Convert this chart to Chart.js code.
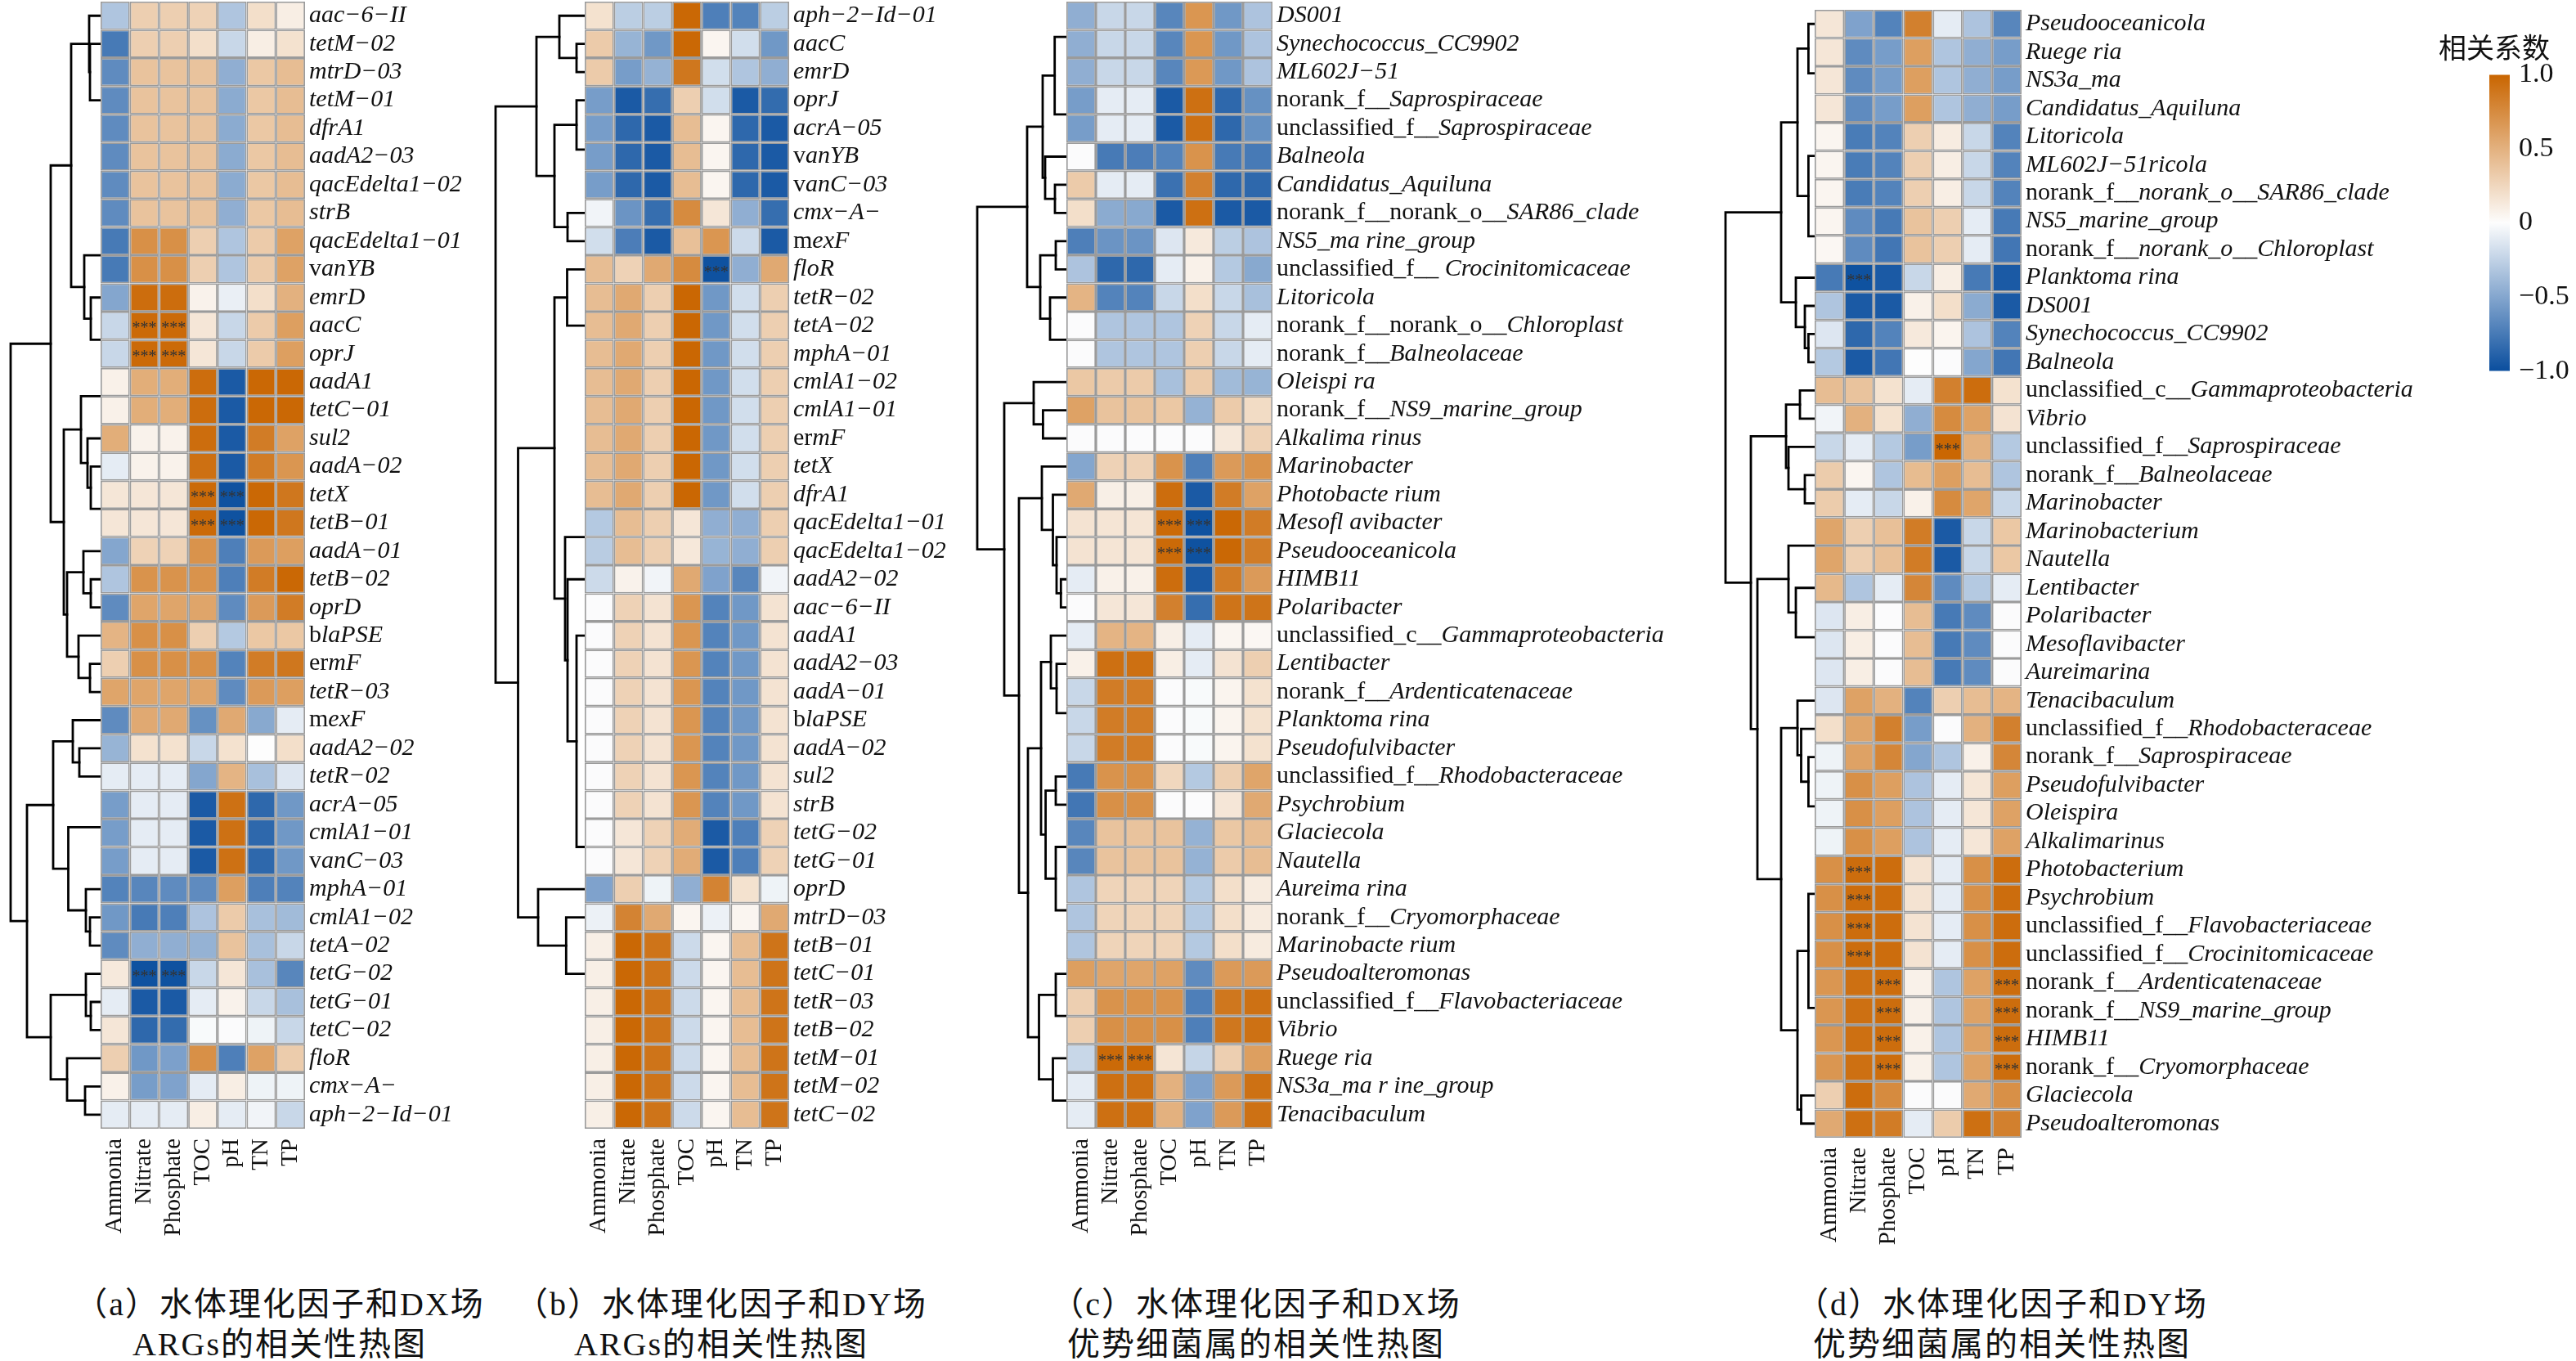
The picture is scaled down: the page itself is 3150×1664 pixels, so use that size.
<!DOCTYPE html>
<html lang="zh">
<head>
<meta charset="utf-8">
<title>相关性热图</title>
<script src="https://cdn.jsdelivr.net/npm/chart.js@4/dist/chart.umd.js"></script>
<style>
   html, body { margin: 0; background: #fff; }
   #page { position: relative; width: 3150px; height: 1664px; overflow: hidden; background: #fff; }
   canvas { position: absolute; }
   .caption { position: absolute; transform: translate( -50%, -50% ); white-space: pre; font: 40px "Liberation Serif", "Noto Sans CJK SC"; letter-spacing: 2px; color: #111; }
   #legendTitle { position: absolute; left: 2982px; top: 32px; font: 34px "Noto Sans CJK SC"; color: #111; white-space: pre; }
</style>
</head>
<body>
<div id="page"></div>
<script>
const columns = [ 'Ammonia', 'Nitrate', 'Phosphate', 'TOC', 'pH', 'TN', 'TP' ]

// {..} marks the upright parts of a row label, the rest is italic
const rowsA = [ 'aac−6−II', 'tetM−02', 'mtrD−03', 'tetM−01', 'dfrA1', 'aadA2−03', 'qacEdelta1−02', 'strB', 'qacEdelta1−01', '{v}anYB', 'emrD', 'aacC', 'oprJ', 'aadA1', 'tetC−01', 'sul2', 'aadA−02', 'tetX', 'tetB−01', 'aadA−01', 'tetB−02', 'oprD', '{b}laPSE', '{er}mF', 'tetR−03', '{m}exF', 'aadA2−02', 'tetR−02', 'acrA−05', 'cmlA1−01', '{v}anC−03', 'mphA−01', 'cmlA1−02', 'tetA−02', 'tetG−02', 'tetG−01', 'tetC−02', 'floR', 'cmx−A−', 'aph−2−Id−01' ]

const valuesA = [
   [ -.32, .3, .3, .28, -.32, .2, .1 ],
   [ -.75, .3, .3, .2, -.22, .1, .18 ],
   [ -.65, .38, .38, .38, -.45, .35, .42 ],
   [ -.65, .38, .38, .38, -.47, .35, .42 ],
   [ -.65, .38, .38, .38, -.47, .35, .42 ],
   [ -.65, .38, .38, .38, -.47, .35, .42 ],
   [ -.65, .38, .38, .38, -.47, .35, .42 ],
   [ -.65, .38, .38, .38, -.45, .35, .42 ],
   [ -.75, .72, .72, .3, -.32, .33, .6 ],
   [ -.75, .72, .72, .3, -.32, .33, .6 ],
   [ -.5, .95, .95, .07, -.08, .2, .5 ],
   [ -.22, .97, .97, .15, -.22, .33, .62 ],
   [ -.22, .97, .97, .15, -.22, .33, .62 ],
   [ .08, .52, .52, .95, -.93, .98, .98 ],
   [ .08, .52, .52, .95, -.93, .98, .98 ],
   [ .52, .07, .07, .95, -.93, .85, .6 ],
   [ -.1, .07, .07, .93, -.93, .85, .68 ],
   [ .15, .15, .15, .97, -.98, .98, .88 ],
   [ .15, .15, .15, .97, -.98, .98, .88 ],
   [ -.5, .28, .28, .7, -.72, .65, .62 ],
   [ -.32, .7, .7, .7, -.72, .85, .98 ],
   [ -.65, .58, .58, .58, -.65, .65, .85 ],
   [ .48, .72, .72, .3, -.3, .35, .35 ],
   [ .3, .72, .72, .72, -.7, .85, .88 ],
   [ .58, .58, .58, .58, -.65, .65, .62 ],
   [ -.65, .55, .55, -.62, .55, -.48, -.1 ],
   [ -.42, .18, .18, -.22, .18, 0, .2 ],
   [ -.1, -.1, -.1, -.5, .48, -.35, -.13 ],
   [ -.55, -.1, -.1, -.93, .92, -.85, -.58 ],
   [ -.55, -.1, -.1, -.93, .92, -.85, -.58 ],
   [ -.55, -.1, -.1, -.93, .92, -.85, -.58 ],
   [ -.7, -.68, -.65, -.65, .62, -.72, -.7 ],
   [ -.58, -.75, -.72, -.33, .33, -.35, -.38 ],
   [ -.65, -.45, -.45, -.43, .38, -.35, -.22 ],
   [ .13, -.98, -.98, -.22, .15, -.35, -.68 ],
   [ -.1, -.93, -.93, -.1, .07, -.22, -.35 ],
   [ .15, -.85, -.83, -.02, -.01, -.06, -.22 ],
   [ .3, -.58, -.53, .72, -.72, .6, .32 ],
   [ .08, -.55, -.52, -.1, .1, -.06, -.06 ],
   [ -.1, -.1, -.1, .1, -.1, -.05, -.22 ],
]

const starsA = [ [ 11, 1 ], [ 11, 2 ], [ 12, 1 ], [ 12, 2 ], [ 17, 3 ], [ 17, 4 ], [ 18, 3 ], [ 18, 4 ], [ 34, 1 ], [ 34, 2 ] ]

// a tree node is [ height, child, child ], a bare number is a leaf at that row position
const treeA = [ 110,
   [ 61,
      [ 36, [ 14, .5, [ 13, 1.5, 3.5 ] ], [ 20, 9, [ 12, 10.5, 12 ] ] ],
      [ 45,
         [ 24, 14, [ 16, 15.5, [ 12, 16.5, 18 ] ] ],
         [ 41, [ 21, 19.5, [ 12, 20.5, 21.5 ] ], [ 27, 22.5, [ 13, 23.5, 24.5 ] ] ],
      ],
   ],
   [ 90,
      [ 58,
         [ 34, 25.5, [ 26, 26.5, 27.5 ] ],
         [ 39.5, 29.3, [ 18, 31.5, [ 13, 32.5, 33.5 ] ] ],
      ],
      [ 61,
         [ 18, 34.5, [ 12, 35.5, 36.5 ] ],
         [ 41, 37.5, [ 19, 38.5, 39.5 ] ],
      ],
   ],
]

const rowsB = [ 'aph−2−Id−01', 'aacC', 'emrD', 'oprJ', 'acrA−05', '{v}anYB', '{v}anC−03', 'cmx−A−', '{m}exF', 'floR', 'tetR−02', 'tetA−02', 'mphA−01', 'cmlA1−02', 'cmlA1−01', '{er}mF', 'tetX', 'dfrA1', 'qacEdelta1−01', 'qacEdelta1−02', 'aadA2−02', 'aac−6−II', 'aadA1', 'aadA2−03', 'aadA−01', '{b}laPSE', 'aadA−02', 'sul2', 'strB', 'tetG−02', 'tetG−01', 'oprD', 'mtrD−03', 'tetB−01', 'tetC−01', 'tetR−03', 'tetB−02', 'tetM−01', 'tetM−02', 'tetC−02' ]

const valuesB = [
   [ .18, -.27, -.27, .98, -.72, -.7, -.27 ],
   [ .33, -.42, -.58, .98, .05, -.18, -.58 ],
   [ .33, -.55, -.43, .88, -.18, -.32, -.45 ],
   [ -.55, -.93, -.82, .3, -.18, -.93, -.83 ],
   [ -.55, -.85, -.93, .42, .05, -.85, -.93 ],
   [ -.55, -.85, -.93, .42, .05, -.85, -.93 ],
   [ -.55, -.85, -.93, .42, .05, -.85, -.93 ],
   [ -.05, -.6, -.82, .75, .15, -.45, -.82 ],
   [ -.18, -.73, -.93, .4, .68, -.2, -.93 ],
   [ .42, .28, .55, .75, -.98, -.45, .55 ],
   [ .42, .55, .3, .99, -.58, -.18, .3 ],
   [ .42, .55, .3, .99, -.58, -.18, .3 ],
   [ .42, .55, .3, .99, -.58, -.18, .3 ],
   [ .42, .55, .3, .99, -.58, -.18, .3 ],
   [ .42, .55, .3, .99, -.58, -.18, .3 ],
   [ .42, .55, .3, .99, -.58, -.18, .3 ],
   [ .42, .55, .3, .99, -.58, -.18, .3 ],
   [ .42, .55, .3, .99, -.58, -.18, .3 ],
   [ -.3, .42, .3, .15, -.45, -.45, .3 ],
   [ -.28, .42, .3, .14, -.42, -.45, .3 ],
   [ -.2, .07, -.05, .55, -.52, -.68, -.05 ],
   [ -.01, .28, .17, .68, -.7, -.58, .17 ],
   [ -.01, .28, .17, .68, -.7, -.58, .17 ],
   [ -.01, .28, .17, .68, -.7, -.58, .17 ],
   [ -.01, .28, .17, .68, -.7, -.58, .17 ],
   [ -.01, .28, .17, .68, -.7, -.58, .17 ],
   [ -.01, .28, .17, .68, -.7, -.58, .17 ],
   [ -.01, .28, .17, .68, -.7, -.58, .17 ],
   [ -.01, .28, .17, .68, -.7, -.58, .17 ],
   [ -.01, .15, .28, .53, -.93, -.72, .28 ],
   [ -.01, .15, .28, .53, -.93, -.72, .28 ],
   [ -.52, .3, -.06, -.45, .8, .18, -.06 ],
   [ -.07, .8, .55, .05, -.07, .05, .55 ],
   [ .09, .98, .9, -.2, .05, .42, .9 ],
   [ .09, .98, .9, -.2, .05, .42, .9 ],
   [ .09, .98, .9, -.2, .05, .42, .9 ],
   [ .09, .98, .9, -.2, .05, .42, .9 ],
   [ .09, .98, .9, -.2, .05, .42, .9 ],
   [ .09, .98, .9, -.2, .05, .42, .9 ],
   [ .09, .98, .9, -.2, .05, .42, .9 ],
]

const starsB = [ [ 9, 4 ] ]

const treeB = [ 109,
   [ 59,
      [ 31, .5, [ 10, 1.5, 2.5 ] ],
      [ 37, [ 10, 3.5, 5.25 ], [ 21, 7.5, 8.5 ] ],
   ],
   [ 81.5,
      [ 37,
         [ 21.5, 9.5, 11.5 ],
         [ 24, 19, [ 21, 20.5, [ 10, 22.5, 30 ] ] ],
      ],
      [ 57, 31.5, [ 22.7, 32.5, 34.5 ] ],
   ],
]

const rowsC = [ 'DS001', 'Synechococcus_CC9902', 'ML602J−51', '{norank_f__}Saprospiraceae', '{unclassified_f__}Saprospiraceae', 'Balneola', 'Candidatus_Aquiluna', '{norank_f__norank_o__}SAR86_clade', 'NS5_ma rine_group', '{unclassified_f__ }Crocinitomicaceae', 'Litoricola', '{norank_f__norank_o__}Chloroplast', '{norank_f__}Balneolaceae', 'Oleispi ra', '{norank_f__}NS9_marine_group', 'Alkalima rinus', 'Marinobacter', 'Photobacte rium', 'Mesofl avibacter', 'Pseudooceanicola', 'HIMB11', 'Polaribacter', '{unclassified_c__}Gammaproteobacteria', 'Lentibacter', '{norank_f__}Ardenticatenaceae', 'Planktoma rina', 'Pseudofulvibacter', '{unclassified_f__}Rhodobacteraceae', 'Psychrobium', 'Glaciecola', 'Nautella', 'Aureima rina', '{norank_f__}Cryomorphaceae', 'Marinobacte rium', 'Pseudoalteromonas', '{unclassified_f__}Flavobacteriaceae', 'Vibrio', 'Ruege ria', 'NS3a_ma r ine_group', 'Tenacibaculum' ]

const valuesC = [
   [ -.45, -.22, -.22, -.68, .68, -.58, -.33 ],
   [ -.45, -.22, -.22, -.68, .68, -.58, -.33 ],
   [ -.45, -.22, -.22, -.68, .66, -.58, -.33 ],
   [ -.55, -.1, -.1, -.93, .93, -.85, -.62 ],
   [ -.55, -.1, -.1, -.93, .93, -.85, -.62 ],
   [ -.01, -.75, -.73, -.7, .7, -.75, -.75 ],
   [ .33, -.1, -.1, -.8, .82, -.85, -.85 ],
   [ .2, -.47, -.48, -.93, .93, -.93, -.93 ],
   [ -.72, -.6, -.6, -.13, .13, -.27, -.33 ],
   [ -.33, -.85, -.85, -.1, .08, -.3, -.48 ],
   [ .48, -.7, -.7, -.22, .2, -.22, -.35 ],
   [ -.01, -.32, -.32, -.32, .28, -.22, -.1 ],
   [ -.01, -.32, -.32, -.32, .3, -.22, -.1 ],
   [ .35, .33, .33, -.35, .33, -.38, -.42 ],
   [ .6, .38, .38, .35, -.43, .33, .22 ],
   [ -.01, -.01, -.01, -.01, -.01, .14, .28 ],
   [ -.5, .28, .28, .7, -.72, .65, .7 ],
   [ .55, .09, .09, .95, -.93, .85, .6 ],
   [ .17, .16, .16, .97, -.98, .98, .85 ],
   [ .17, .16, .16, .97, -.98, .98, .85 ],
   [ -.1, .08, .08, .95, -.93, .85, .65 ],
   [ -.01, .15, .15, .82, -.82, .9, .9 ],
   [ -.1, .48, .48, .09, -.1, .05, .04 ],
   [ .08, .93, .93, .1, -.1, .17, .3 ],
   [ -.22, .85, .85, -.01, -.02, .06, .18 ],
   [ -.22, .85, .85, -.01, -.02, .06, .18 ],
   [ -.22, .85, .85, -.01, -.02, .06, .18 ],
   [ -.75, .7, .72, .25, -.3, .3, .58 ],
   [ -.77, .72, .72, -.01, -.01, .15, .55 ],
   [ -.68, .38, .38, .38, -.43, .35, .42 ],
   [ -.68, .38, .38, .38, -.43, .33, .42 ],
   [ -.32, .27, .27, .27, -.3, .2, .12 ],
   [ -.32, .27, .27, .27, -.3, .2, .12 ],
   [ -.32, .27, .27, .27, -.3, .2, .12 ],
   [ .62, .58, .58, .6, -.65, .65, .65 ],
   [ .3, .7, .7, .7, -.72, .88, .92 ],
   [ .3, .72, .72, .72, -.72, .88, .92 ],
   [ -.22, .97, .97, .16, -.23, .3, .62 ],
   [ -.1, .93, .93, .5, -.52, .65, .92 ],
   [ -.1, .93, .93, .5, -.52, .65, .92 ],
]

const starsC = [ [ 18, 3 ], [ 18, 4 ], [ 19, 3 ], [ 19, 4 ], [ 37, 1 ], [ 37, 2 ] ]

const treeC = [ 109,
   [ 48,
      [ 29,
         [ 14.3, 1.25, 4 ],
         [ 26, 5.5, [ 14, 6.5, 7.5 ] ],
      ],
      [ 32, [ 13, 8.5, 9.5 ], [ 20, 10.5, 12 ] ],
   ],
   [ 76,
      [ 40, 13.5, [ 28.6, 14.5, 15.5 ] ],
      [ 58,
         [ 30, 16.5, [ 16.5, 17.5, [ 12, 19, [ 6.7, 20.5, 21.5 ] ] ] ],
         [ 47,
            [ 31,
               [ 19, 22.5, [ 12, 23.5, 25.25 ] ],
               [ 25.4, [ 13, 27.5, 28.5 ], [ 13, 30, 32.25 ] ],
            ],
            [ 33.5, [ 13, 34.5, 36 ], [ 16.5, 37.5, 39 ] ],
         ],
      ],
   ],
]

const rowsD = [ 'Pseudooceanicola', 'Ruege ria', 'NS3a_ma', 'Candidatus_Aquiluna', 'Litoricola', 'ML602J−51ricola', '{norank_f__}norank_o__SAR86_clade', 'NS5_marine_group', '{norank_f__}norank_o__Chloroplast', 'Planktoma rina', 'DS001', 'Synechococcus_CC9902', 'Balneola', '{unclassified_c__}Gammaproteobacteria', 'Vibrio', '{unclassified_f__}Saprospiraceae', '{norank_f__}Balneolaceae', 'Marinobacter', 'Marinobacterium', 'Nautella', 'Lentibacter', 'Polaribacter', 'Mesoflavibacter', 'Aureimarina', 'Tenacibaculum', '{unclassified_f__}Rhodobacteraceae', '{norank_f__}Saprospiraceae', 'Pseudofulvibacter', 'Oleispira', 'Alkalimarinus', 'Photobacterium', 'Psychrobium', '{unclassified_f__}Flavobacteriaceae', '{unclassified_f__}Crocinitomicaceae', '{norank_f__}Ardenticatenaceae', '{norank_f__}NS9_marine_group', 'HIMB11', '{norank_f__}Cryomorphaceae', 'Glaciecola', 'Pseudoalteromonas' ]

const valuesD = [
   [ .15, -.52, -.7, .82, -.1, -.33, -.68 ],
   [ .15, -.65, -.55, .62, -.32, -.45, -.55 ],
   [ .15, -.65, -.55, .62, -.32, -.45, -.55 ],
   [ .15, -.65, -.55, .62, -.32, -.45, -.55 ],
   [ .05, -.74, -.7, .3, .11, -.22, -.7 ],
   [ .05, -.74, -.7, .3, .1, -.22, -.7 ],
   [ .05, -.74, -.7, .3, .1, -.22, -.7 ],
   [ .05, -.65, -.75, .38, .3, -.1, -.75 ],
   [ .04, -.65, -.77, .38, .3, -.1, -.77 ],
   [ -.75, -.98, -.93, -.22, .1, -.75, -.93 ],
   [ -.32, -.93, -.93, .08, .2, -.47, -.93 ],
   [ -.13, -.85, -.7, .13, .06, -.33, -.7 ],
   [ -.3, -.93, -.77, 0, -.01, -.5, -.77 ],
   [ .42, .38, .18, -.1, .82, .95, .18 ],
   [ -.05, .5, .18, -.45, .75, .6, .17 ],
   [ -.22, -.1, -.3, -.55, .99, .5, -.3 ],
   [ .32, .05, -.32, .43, .62, .42, -.32 ],
   [ .32, -.1, -.22, .08, .75, .58, -.22 ],
   [ .58, .3, .4, .85, -.93, -.22, .35 ],
   [ .58, .3, .4, .85, -.93, -.22, .35 ],
   [ .45, -.32, -.1, .78, -.65, -.3, -.1 ],
   [ -.13, .1, -.01, .42, -.75, -.65, -.01 ],
   [ -.13, .1, -.01, .42, -.75, -.65, -.01 ],
   [ -.13, .1, -.01, .42, -.75, -.65, -.01 ],
   [ -.13, .6, .5, -.7, .3, .42, .48 ],
   [ .2, .58, .82, -.55, -.01, .5, .82 ],
   [ -.06, .6, .78, -.5, -.32, .08, .78 ],
   [ -.06, .72, .62, -.33, -.1, .15, .62 ],
   [ -.06, .72, .62, -.33, -.1, .15, .6 ],
   [ -.06, .72, .62, -.33, -.1, .15, .6 ],
   [ .72, .95, .95, .17, -.1, .72, .95 ],
   [ .72, .95, .95, .17, -.1, .72, .95 ],
   [ .72, .95, .95, .17, -.1, .72, .95 ],
   [ .72, .95, .95, .17, -.1, .72, .95 ],
   [ .68, .93, .95, .08, -.32, .6, .95 ],
   [ .68, .93, .95, .08, -.32, .6, .95 ],
   [ .68, .93, .95, .08, -.32, .6, .95 ],
   [ .68, .93, .95, .08, -.32, .6, .95 ],
   [ .3, .95, .75, -.01, -.01, .55, .72 ],
   [ .55, .93, .85, -.1, .32, .93, .82 ],
]

const starsD = [ [ 9, 1 ], [ 15, 4 ], [ 30, 1 ], [ 31, 1 ], [ 32, 1 ], [ 33, 1 ], [ 34, 2 ], [ 34, 6 ], [ 35, 2 ], [ 35, 6 ], [ 36, 2 ], [ 36, 6 ], [ 37, 2 ], [ 37, 6 ] ]

const treeD = [ 109,
   [ 41,
      [ 21,
         [ 7.6, .5, 2.25 ],
         [ 7.6, 5.18, 8.03 ],
      ],
      [ 23, 9.5, [ 12, 10.5, [ 7.6, 11.5, 12.5 ] ] ],
   ],
   [ 78,
      [ 35,
         [ 18, 13.5, 14.5 ],
         [ 32, 15.5, [ 12, 16.5, 17.5 ] ],
      ],
      [ 70,
         [ 32, 19, [ 23, 20.5, 22.25 ] ],
         [ 41,
            [ 21, 24.5, [ 16.5, 25.5, [ 7.6, 26.5, 28.25 ] ] ],
            [ 21, [ 7.6, 31.35, 35.4 ], [ 16.5, 38.5, 39.5 ] ],
         ],
      ],
   ],
]

const legendTicks = [ 1, .5, 0, -.5, -1 ]

const captionsA = [ '（a）水体理化因子和DX场', 'ARGs的相关性热图' ]
const captionsB = [ '（b）水体理化因子和DY场', 'ARGs的相关性热图' ]
const captionsC = [ '（c）水体理化因子和DX场', '优势细菌属的相关性热图' ]
const captionsD = [ '（d）水体理化因子和DY场', '优势细菌属的相关性热图' ]

const page = document.getElementById( 'page' )

const LOW = [ 10, 78, 158 ]
const MID = [ 253, 253, 253 ]
const HIGH = [ 201, 101, 0 ]

const ROW_FONT = '30px "Liberation Serif"'
const DENDRO_WIDTH = 123
const LABEL_WIDTH = 520
const AXIS_HEIGHT = 140

function cellColor( value ) {
   const end = value < 0 ? LOW : HIGH
   const t = Math.min( 1, Math.abs( value ) )
   const mix = MID.map( ( c, i ) => Math.round( c + ( end[ i ] - c ) * t ) )
   return `rgb(${mix[ 0 ]},${mix[ 1 ]},${mix[ 2 ]})`
}

function addCanvas( left, top, width, height ) {
   const canvas = document.createElement( 'canvas' )
   canvas.width = width
   canvas.height = height
   canvas.style.left = `${left}px`
   canvas.style.top = `${top}px`
   canvas.style.width = `${width}px`
   canvas.style.height = `${height}px`
   page.appendChild( canvas )
   return canvas
}

/** Collect one U shaped line per tree node, children first. */
function treeLines( node, out ) {
   if ( typeof node === 'number' ) {
      return { h: 0, y: node }
   }

   const [ h, first, second ] = node
   const a = treeLines( first, out )
   const b = treeLines( second, out )
   out.push( [ { x: a.h, y: a.y }, { x: h, y: a.y }, { x: h, y: b.y }, { x: b.h, y: b.y } ] )

   return { h, y: ( a.y + b.y ) / 2 }
}

function drawDendrogram( tree, left, top, height ) {
   const lines = []
   treeLines( tree, lines )

   new Chart( addCanvas( left - DENDRO_WIDTH, top, DENDRO_WIDTH, height ), {
      type: 'scatter',
      data: {
         datasets: lines.map( ( line ) => ( {
            data: line,
            showLine: true,
            borderColor: '#000',
            borderWidth: 2.8,
            borderCapStyle: 'square',
            pointRadius: 0,
            clip: false,
         } ) ),
      },
      options: {
         responsive: false,
         animation: false,
         devicePixelRatio: 1,
         events: [],
         plugins: { legend: { display: false }, tooltip: { enabled: false } },
         scales: {
            x: { type: 'linear', display: false, reverse: true, min: 0, max: DENDRO_WIDTH },
            y: { type: 'linear', display: false, reverse: true, min: 0, max: 40 },
         },
      },
   } )
}

/** Row labels with mixed upright and italic parts, plus the *** marks. */
function rowTextPlugin( rows, stars ) {
   return {
      id: 'row_text',
      afterDatasetsDraw( chart ) {
         const { ctx, scales, chartArea } = chart
         ctx.save()
         ctx.textBaseline = 'middle'
         ctx.textAlign = 'left'
         ctx.fillStyle = '#111'

         rows.forEach( ( label, r ) => {
            const y = scales.y.getPixelForValue( r + .5 )
            let x = chartArea.right + 5

            label.split( /(\{[^}]*\})/ ).forEach( ( part ) => {
               if ( ! part ) {
                  return
               }
               const upright = part[ 0 ] === '{'
               const text = upright ? part.slice( 1, -1 ) : part
               ctx.font = upright ? ROW_FONT : `italic ${ROW_FONT}`
               ctx.fillText( text, x, y )
               x += ctx.measureText( text ).width
            } )
         } )

         ctx.textAlign = 'center'
         ctx.font = '20px "Liberation Serif"'
         ctx.fillStyle = '#333'
         stars.forEach( ( [ r, c ] ) => {
            ctx.fillText( '***', scales.x.getPixelForValue( c ), scales.y.getPixelForValue( r + .5 ) + 4 )
         } )

         ctx.restore()
      },
   }
}

function drawHeatmap( rows, values, stars, left, top, right, bottom ) {
   const width = right - left
   const height = bottom - top

   new Chart( addCanvas( left, top, width + LABEL_WIDTH, height + AXIS_HEIGHT ), {
      type: 'bar',
      plugins: [ rowTextPlugin( rows, stars ) ],
      data: {
         labels: columns,
         datasets: values.map( ( row, r ) => ( {
            data: row.map( () => [ r, r + 1 ] ),
            cells: row,
            grouped: false,
            barPercentage: 1,
            categoryPercentage: 1,
            backgroundColor: ( ctx ) => cellColor( ctx.dataset.cells[ ctx.dataIndex ] ),
            borderColor: '#9b9b9b',
            borderWidth: 1.8,
            borderSkipped: false,
            inflateAmount: 0,
         } ) ),
      },
      options: {
         responsive: false,
         animation: false,
         devicePixelRatio: 1,
         events: [],
         layout: { padding: { left: 0, top: 0, bottom: 0, right: LABEL_WIDTH } },
         plugins: { legend: { display: false }, tooltip: { enabled: false } },
         scales: {
            x: {
               type: 'category',
               grid: { display: false },
               border: { display: false },
               afterFit( scale ) {
                  scale.height = AXIS_HEIGHT
               },
               ticks: {
                  autoSkip: false,
                  minRotation: 90,
                  maxRotation: 90,
                  padding: 4,
                  color: '#111',
                  font: { family: 'Liberation Serif', size: 29 },
               },
            },
            y: { type: 'linear', display: false, reverse: true, min: 0, max: 40 },
         },
      },
   } )
}

function drawCaptions( lines, centerX ) {
   lines.forEach( ( line, i ) => {
      const div = document.createElement( 'div' )
      div.className = 'caption'
      div.textContent = line
      div.style.left = `${centerX}px`
      div.style.top = `${1591 + i * 49}px`
      page.appendChild( div )
   } )
}

function drawLegend() {
   const title = document.createElement( 'div' )
   title.id = 'legendTitle'
   title.textContent = '相关系数'
   page.appendChild( title )

   new Chart( addCanvas( 3044, 60, 106, 425 ), {
      type: 'bar',
      data: {
         labels: [ '' ],
         datasets: [ {
            data: [ [ legendTicks[ legendTicks.length - 1 ], legendTicks[ 0 ] ] ],
            barPercentage: 1,
            categoryPercentage: 1,
            backgroundColor( ctx ) {
               const area = ctx.chart.chartArea
               if ( ! area ) {
                  return null
               }
               const fill = ctx.chart.ctx.createLinearGradient( 0, area.top, 0, area.bottom )
               legendTicks.forEach( ( v, i ) => {
                  fill.addColorStop( i / ( legendTicks.length - 1 ), cellColor( v ) )
               } )
               return fill
            },
         } ],
      },
      options: {
         responsive: false,
         animation: false,
         devicePixelRatio: 1,
         events: [],
         layout: { padding: { top: 29, bottom: 18 } },
         plugins: { legend: { display: false }, tooltip: { enabled: false } },
         scales: {
            x: { display: false },
            y: {
               position: 'right',
               min: -1,
               max: 1,
               grid: { display: false, drawTicks: false },
               border: { display: false },
               afterFit( scale ) {
                  scale.width = 81
               },
               ticks: {
                  stepSize: .5,
                  padding: 11,
                  color: '#111',
                  font: { family: 'Liberation Serif', size: 34 },
                  callback( v ) {
                     if ( v === 0 ) {
                        return '0'
                     }
                     return `${v < 0 ? '−' : ''}${Math.abs( v ).toFixed( 1 )}`
                  },
               },
            },
         },
      },
   } )
}

drawDendrogram( treeA, 123, 2, 1378 )
drawHeatmap( rowsA, valuesA, starsA, 123, 2, 373, 1380 )
drawCaptions( captionsA, 342 )

drawDendrogram( treeB, 715, 2, 1378 )
drawHeatmap( rowsB, valuesB, starsB, 715, 2, 965, 1380 )
drawCaptions( captionsB, 882 )

drawDendrogram( treeC, 1304, 2, 1378 )
drawHeatmap( rowsC, valuesC, starsC, 1304, 2, 1556, 1380 )
drawCaptions( captionsC, 1536 )

drawDendrogram( treeD, 2219, 12, 1379 )
drawHeatmap( rowsD, valuesD, starsD, 2219, 12, 2472, 1391 )
drawCaptions( captionsD, 2448 )

drawLegend()
</script>
</body>
</html>
